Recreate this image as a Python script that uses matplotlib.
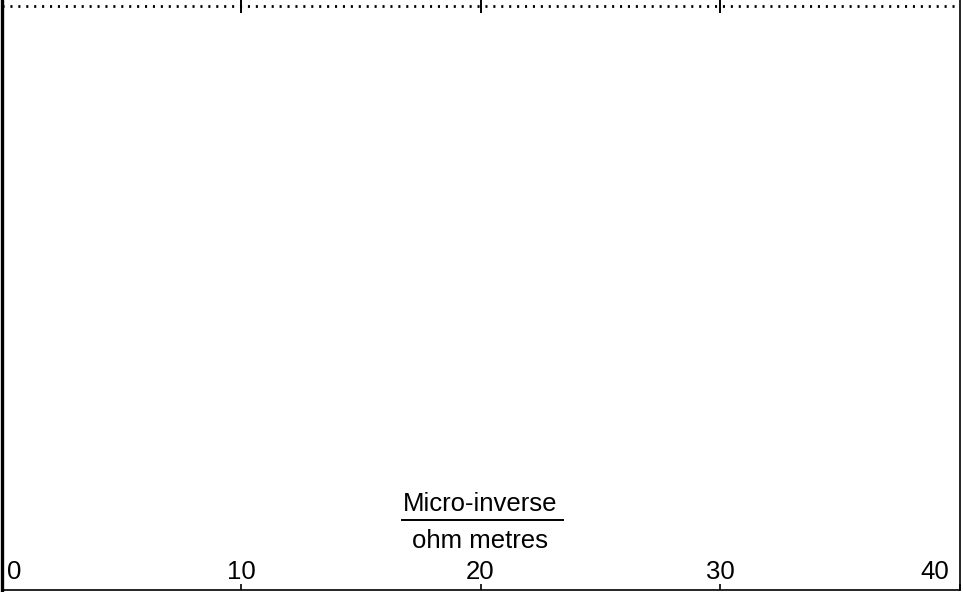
import matplotlib
matplotlib.use("Agg")
import matplotlib.pyplot as plt
import matplotlib.transforms as mtransforms
from matplotlib.lines import Line2D

plt.rcParams['font.family'] = ['Liberation Sans', 'DejaVu Sans']

# axis data
x_min, x_max = 0, 40
x_ticks = [0, 10, 20, 30, 40]
x_tick_labels = ['0', '10', '20', '30', '40']
ref_level = 0.99  # dotted reference line near the top
unit_top = 'Micro-inverse'
unit_bottom = 'ohm metres'

W, H, DPI = 963, 592, 100
FS = 18.5
fig = plt.figure(figsize=(W / DPI, H / DPI), dpi=DPI)
ax = fig.add_axes([1.5 / W, 2.5 / H, 958 / W, 589.5 / H])
ax.set_xlim(x_min, x_max)
ax.set_ylim(0, 1)

ax.spines['top'].set_visible(False)
ax.spines['left'].set_linewidth(2.4)
ax.spines['right'].set_linewidth(1.2)
ax.spines['bottom'].set_linewidth(1.2)

ax.set_yticks([])
ax.set_xticks(x_ticks)
ax.tick_params(axis='x', direction='in', length=4, width=1.2,
               labelbottom=False, bottom=True, top=False)

top = ax.secondary_xaxis('top')
top.set_xticks(x_ticks[1:-1])
top.tick_params(direction='in', length=9.5, width=1.4, labeltop=False)
top.spines['top'].set_visible(False)

# dotted line across the top
ax.axhline(ref_level, color='black', lw=2.0, linestyle=(0, (0.75, 2.1)))

# tick labels sitting inside the plot
trans = mtransforms.blended_transform_factory(ax.transData, ax.transAxes)
for i, (xv, lab) in enumerate(zip(x_ticks, x_tick_labels)):
    if i == 0:
        ha, dx = 'left', 5
    elif i == len(x_ticks) - 1:
        ha, dx = 'right', -10
    else:
        ha, dx = 'center', 0
    off = mtransforms.ScaledTranslation(dx / DPI, 10.5 / DPI, fig.dpi_scale_trans)
    ax.text(xv, 0, lab, ha=ha, va='baseline', fontsize=FS,
            transform=trans + off)

# unit label as a fraction
mid = 0.5
off1 = mtransforms.ScaledTranslation(0, (589.5 - 511) / DPI, fig.dpi_scale_trans)
ax.text(mid, 0, unit_top, ha='center', va='baseline', fontsize=FS,
        transform=ax.transAxes + off1)
off2 = mtransforms.ScaledTranslation(0, (589.5 - 548) / DPI, fig.dpi_scale_trans)
ax.text(mid, 0, unit_bottom, ha='center', va='baseline', fontsize=FS,
        transform=ax.transAxes + off2)
bar_y = 1 - 520 / H
fig.add_artist(Line2D([402 / W, 563 / W], [bar_y, bar_y], color='black',
                      lw=1.4, transform=fig.transFigure))

fig.savefig('out.png', dpi=DPI)
